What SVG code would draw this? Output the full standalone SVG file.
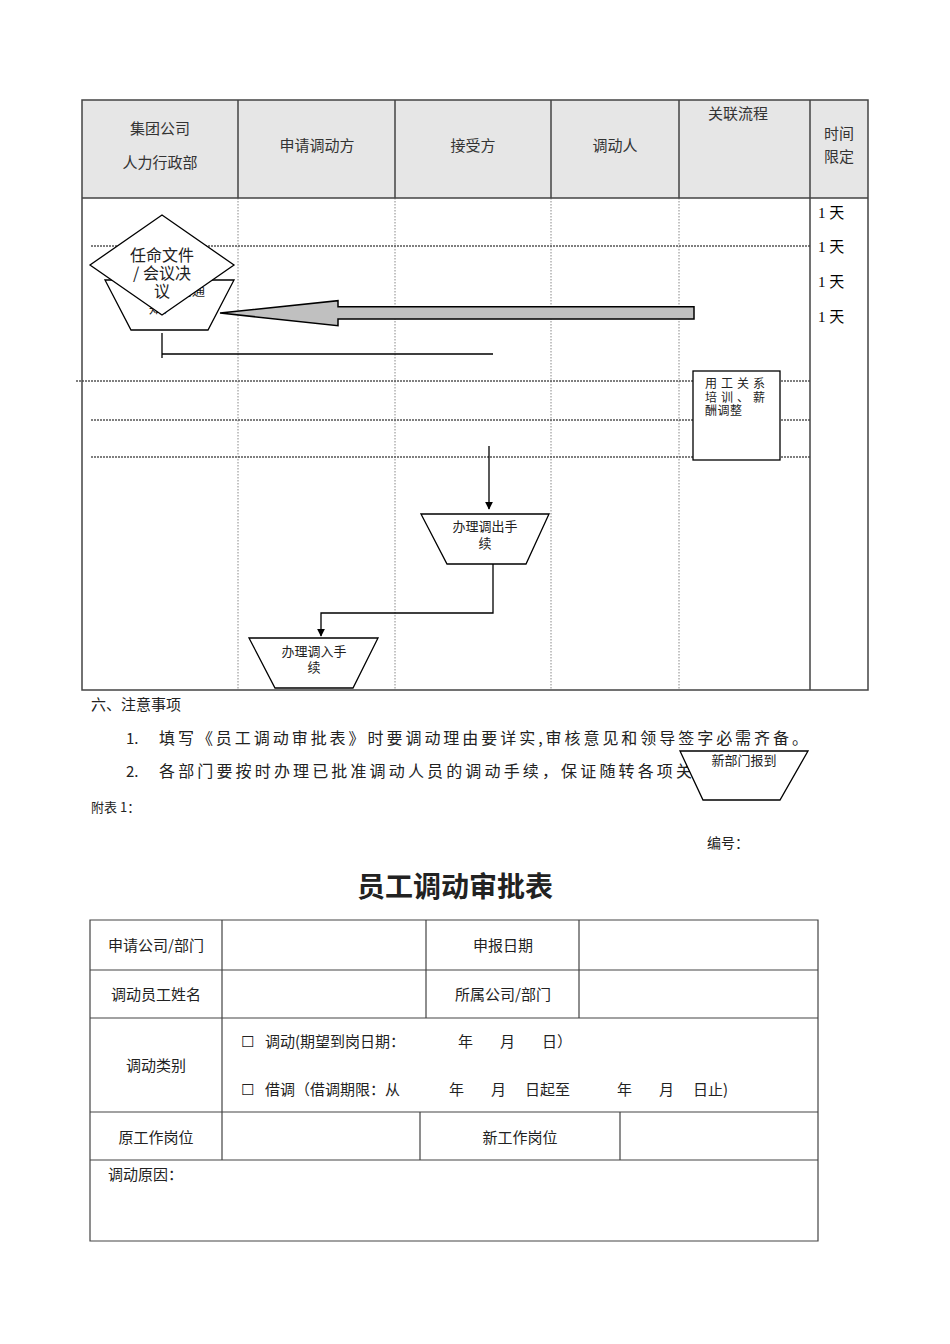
<svg xmlns="http://www.w3.org/2000/svg" width="950" height="1344" viewBox="0 0 950 1344">
<defs>
<style>
text{font-family:"Noto Sans CJK SC","Noto Sans",sans-serif;fill:#222}
.h{font-size:15px;fill:#333;text-anchor:middle}
.c{text-anchor:middle}
.n{font-size:13px}
.r{font-size:12px}
.day{font-size:15px;font-family:"Liberation Serif","Noto Sans CJK SC",serif;fill:#000}
.solid{stroke:#444;stroke-width:1.5;fill:none}
.vdot{stroke:#888;stroke-width:1;stroke-dasharray:1.5,1.5;fill:none}
.hdot{stroke:#555;stroke-width:1.5;stroke-dasharray:2,1;fill:none}
.shape{fill:#fff;stroke:#000;stroke-width:1.3}
.conn{stroke:#000;stroke-width:1.3;fill:none}
.f{font-size:15px}
.grid{stroke:#444;stroke-width:1.2;fill:none}
</style>
<marker id="ah" viewBox="0 0 10 10" refX="9" refY="5" markerWidth="8" markerHeight="8" markerUnits="userSpaceOnUse" orient="auto"><path d="M0,0 L10,5 L0,10 z" fill="#000"/></marker>
</defs>
<rect width="950" height="1344" fill="#fff"/>

<g id="swimlane">
<rect x="82" y="100" width="786" height="98" fill="#e6e6e6"/>
<line class="vdot" x1="238" y1="198" x2="238" y2="690"/>
<line class="vdot" x1="395" y1="198" x2="395" y2="690"/>
<line class="vdot" x1="551" y1="198" x2="551" y2="690"/>
<line class="vdot" x1="679" y1="198" x2="679" y2="690"/>
<line class="hdot" x1="91" y1="246" x2="810" y2="246"/>
<line class="hdot" x1="76" y1="381" x2="810" y2="381" stroke="#222"/>
<line class="hdot" x1="91" y1="420" x2="810" y2="420"/>
<line class="hdot" x1="91" y1="457" x2="810" y2="457"/>
<path class="solid" d="M82,100 H868 V690 H82 Z M82,198 H868 M238,100 V198 M395,100 V198 M551,100 V198 M679,100 V198 M810,100 V690"/>
<text class="h" x="160" y="134">集团公司</text>
<text class="h" x="160" y="168">人力行政部</text>
<text class="h" x="317" y="151">申请调动方</text>
<text class="h" x="473" y="151">接受方</text>
<text class="h" x="615" y="151">调动人</text>
<text class="h" x="738" y="119">关联流程</text>
<text class="h" x="839" y="139">时间</text>
<text class="h" x="839" y="162">限定</text>
<text class="day" x="818" y="218">1 天</text>
<text class="day" x="818" y="252">1 天</text>
<text class="day" x="818" y="287">1 天</text>
<text class="day" x="818" y="322">1 天</text>
</g>

<g id="connectors">
<path d="M694,306.7 H338 V300.7 L220,313 L338,325.7 V319 H694 Z" fill="#c0c0c0" stroke="#000" stroke-width="1.5"/>
<path class="conn" d="M162,333 V358 M162,354 H493"/>
<line class="conn" x1="489" y1="446" x2="489" y2="509" marker-end="url(#ah)"/>
<path class="conn" d="M493,564 V613 H321 V636" marker-end="url(#ah)"/>
</g>

<g id="node-notice">
<polygon class="shape" points="105,280 234,280 208,330 131,330"/>
<text class="n" x="205" y="295" text-anchor="end">《调动通</text>
<text class="n" x="149" y="313">知》</text>
</g>

<g id="node-appoint">
<polygon class="shape" points="162,215 234,265 162,315 90,265"/>
<text class="c" x="162" y="261" font-size="16">任命文件</text>
<text class="c" x="162" y="279" font-size="16">/ 会议决</text>
<text class="c" x="162" y="297" font-size="16">议</text>
</g>

<g id="node-related">
<rect class="shape" x="693" y="371" width="87" height="89"/>
<text class="r" x="705" y="388" letter-spacing="4">用工关系</text>
<text class="r" x="705" y="401.5" letter-spacing="4">培训、薪</text>
<text class="r" x="705" y="415" letter-spacing="0.5">酬调整</text>
</g>

<g id="node-out">
<polygon class="shape" points="421,514 549,514 526,564 447,564"/>
<text class="n c" x="485" y="531">办理调出手</text>
<text class="n c" x="485" y="548">续</text>
</g>

<g id="node-in">
<polygon class="shape" points="249,638 378,638 353,688 275,688"/>
<text class="n c" x="314" y="656">办理调入手</text>
<text class="n c" x="314" y="672">续</text>
</g>

<g id="notes">
<text x="91" y="710" font-size="15">六、注意事项</text>
<text x="126" y="744" font-size="15">1.</text>
<text x="159" y="744" font-size="16" textLength="649" lengthAdjust="spacing">填写《员工调动审批表》时要调动理由要详实,审核意见和领导签字必需齐备。</text>
<text x="126" y="777" font-size="15">2.</text>
<text x="159" y="777" font-size="16" textLength="533" lengthAdjust="spacing">各部门要按时办理已批准调动人员的调动手续，保证随转各项关</text>
<text x="91" y="812" font-size="13">附表 1：</text>
<text x="707" y="848" font-size="14">编号：</text>
</g>

<g id="node-report">
<polygon class="shape" points="680,751 808,751 780,800 703,800"/>
<text class="n c" x="744" y="765">新部门报到</text>
</g>

<g id="form">
<text x="455" y="897" font-size="28" font-weight="bold" text-anchor="middle" fill="#000">员工调动审批表</text>
<path class="grid" d="M90,920 H818 V1241 H90 Z M90,970 H818 M90,1018 H818 M90,1112 H818 M90,1160 H818 M222,920 V1160 M426,920 V1018 M579,920 V1018 M420,1112 V1160 M620,1112 V1160"/>
<text class="f c" x="156" y="951">申请公司/部门</text>
<text class="f c" x="503" y="951">申报日期</text>
<text class="f c" x="156" y="1000">调动员工姓名</text>
<text class="f c" x="503" y="1000">所属公司/部门</text>
<text class="f c" x="156" y="1071">调动类别</text>
<text class="f" x="241" y="1047">☐</text>
<text class="f" x="265" y="1047">调动(期望到岗日期：</text>
<text class="f" x="458" y="1047">年</text>
<text class="f" x="500" y="1047">月</text>
<text class="f" x="542" y="1047">日）</text>
<text class="f" x="241" y="1095">☐</text>
<text class="f" x="265" y="1095">借调（借调期限：从</text>
<text class="f" x="449" y="1095">年</text>
<text class="f" x="491" y="1095">月</text>
<text class="f" x="525" y="1095">日起至</text>
<text class="f" x="617" y="1095">年</text>
<text class="f" x="659" y="1095">月</text>
<text class="f" x="693" y="1095">日止)</text>
<text class="f c" x="156" y="1143">原工作岗位</text>
<text class="f c" x="520" y="1143">新工作岗位</text>
<text class="f" x="108" y="1180">调动原因：</text>
</g>
</svg>
